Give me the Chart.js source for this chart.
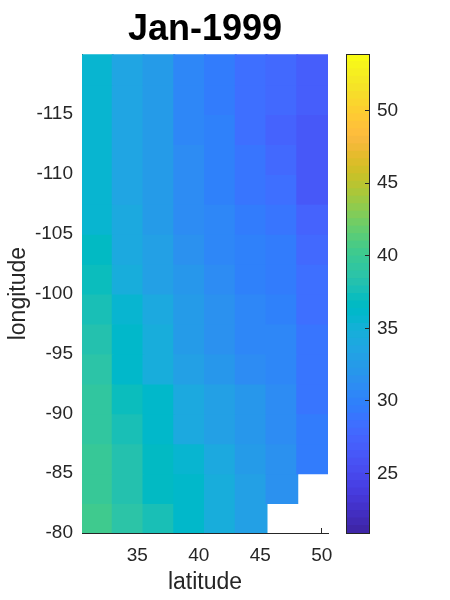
<!DOCTYPE html>
<html>
<head>
<meta charset="utf-8">
<script src="https://cdn.jsdelivr.net/npm/chart.js@4.4.1/dist/chart.umd.min.js"></script>
<style>
  body { margin: 0; background: #fff; }
  #wrap { position: relative; width: 450px; height: 600px; }
  #wrap canvas { position: absolute; left: 0; top: 0; }
</style>
</head>
<body>
<div id="wrap">
  <canvas id="mapChart" width="450" height="600"></canvas>
  <canvas id="barChart" width="450" height="600"></canvas>
</div>
<script>
// cell centres
const lats = [31.75, 34.25, 36.75, 39.25, 41.75, 44.25, 46.75, 49.25];
const lons = [-118.75, -116.25, -113.75, -111.25, -108.75, -106.25, -103.75, -101.25,
              -98.75, -96.25, -93.75, -91.25, -88.75, -86.25, -83.75, -81.25];

// one row per longitude, west -> east latitude columns (null = no data)
const r01 = [35.6, 33.5, 32.5, 30.4, 29.4, 28.4, 27.9, 26.8];
const r02 = [35.6, 33.5, 32.5, 30.4, 29.4, 28.4, 27.9, 26.8];
const r03 = [35.6, 33.5, 32.5, 30.4, 29.9, 28.4, 27.4, 26.3];
const r04 = [35.6, 33.5, 32.5, 31.0, 29.9, 28.9, 27.9, 26.3];
const r05 = [35.6, 33.5, 32.5, 31.0, 29.9, 28.9, 28.4, 26.3];
const r06 = [35.6, 34.1, 32.5, 31.0, 30.4, 29.4, 28.9, 27.4];
const r07 = [36.6, 34.1, 33.0, 31.5, 30.4, 29.9, 29.4, 27.9];
const r08 = [37.1, 34.6, 33.0, 32.0, 31.0, 29.9, 29.4, 28.4];
const r09 = [37.7, 35.6, 34.1, 32.5, 31.5, 30.4, 29.9, 28.4];
const r10 = [38.2, 36.1, 34.6, 32.5, 31.5, 30.4, 30.4, 28.9];
const r11 = [38.7, 36.1, 34.6, 33.0, 32.0, 31.0, 30.4, 28.9];
const r12 = [39.2, 37.1, 36.1, 34.1, 33.0, 32.0, 31.0, 28.9];
const r13 = [39.2, 37.7, 36.1, 34.1, 33.0, 32.0, 31.0, 29.4];
const r14 = [39.7, 38.2, 36.6, 35.6, 34.1, 32.5, 31.5, 29.4];
const r15 = [39.7, 38.2, 36.6, 36.1, 34.6, 33.0, 31.5, null];
const r16 = [40.2, 38.7, 37.7, 36.1, 34.6, 33.0, null, null];
const rows = [r01, r02, r03, r04, r05, r06, r07, r08, r09, r10, r11, r12, r13, r14, r15, r16];

const latTicks = [35, 40, 45, 50];
const lonTicks = [-115, -110, -105, -100, -95, -90, -85, -80];
const cLim = [20.9, 53.9];
const cTicks = [25, 30, 35, 40, 45, 50];

// parula(64)
const parulaMap = [
  [0.2422,0.1504,0.6603],[0.2504,0.1650,0.7076],[0.2578,0.1818,0.7511],[0.2647,0.1978,0.7952],
  [0.2706,0.2147,0.8364],[0.2751,0.2342,0.8710],[0.2783,0.2559,0.8991],[0.2803,0.2782,0.9221],
  [0.2813,0.3006,0.9414],[0.2810,0.3228,0.9579],[0.2795,0.3447,0.9717],[0.2760,0.3667,0.9829],
  [0.2699,0.3892,0.9906],[0.2602,0.4123,0.9952],[0.2440,0.4358,0.9988],[0.2206,0.4603,0.9973],
  [0.1963,0.4847,0.9892],[0.1834,0.5074,0.9798],[0.1786,0.5289,0.9682],[0.1764,0.5499,0.9520],
  [0.1687,0.5703,0.9359],[0.1540,0.5902,0.9218],[0.1460,0.6091,0.9079],[0.1380,0.6276,0.8973],
  [0.1248,0.6459,0.8883],[0.1113,0.6635,0.8763],[0.0952,0.6798,0.8598],[0.0689,0.6948,0.8394],
  [0.0297,0.7082,0.8163],[0.0036,0.7203,0.7917],[0.0067,0.7312,0.7660],[0.0433,0.7411,0.7394],
  [0.0964,0.7500,0.7120],[0.1408,0.7584,0.6842],[0.1717,0.7670,0.6554],[0.1938,0.7758,0.6251],
  [0.2161,0.7843,0.5923],[0.2470,0.7918,0.5567],[0.2906,0.7973,0.5188],[0.3406,0.8008,0.4789],
  [0.3909,0.8029,0.4354],[0.4456,0.8024,0.3909],[0.5044,0.7993,0.3480],[0.5616,0.7942,0.3045],
  [0.6174,0.7876,0.2612],[0.6720,0.7793,0.2227],[0.7242,0.7698,0.1910],[0.7738,0.7598,0.1646],
  [0.8203,0.7498,0.1535],[0.8634,0.7406,0.1596],[0.9035,0.7330,0.1774],[0.9393,0.7288,0.2100],
  [0.9728,0.7298,0.2394],[0.9956,0.7434,0.2371],[0.9970,0.7659,0.2199],[0.9952,0.7893,0.2028],
  [0.9892,0.8136,0.1885],[0.9786,0.8386,0.1766],[0.9676,0.8639,0.1643],[0.9610,0.8890,0.1537],
  [0.9597,0.9135,0.1423],[0.9628,0.9373,0.1265],[0.9691,0.9606,0.1064],[0.9769,0.9839,0.0805]
];

const axisColor = '#262626';
Chart.defaults.font.family = 'Arial, "Liberation Sans", Helvetica, sans-serif';
Chart.defaults.color = axisColor;

function rgb(c) {
  return 'rgb(' + c.map(x => Math.round(x * 255)).join(',') + ')';
}

function parula(v) {
  let k = Math.floor((v - cLim[0]) / (cLim[1] - cLim[0]) * parulaMap.length);
  k = Math.max(0, Math.min(parulaMap.length - 1, k));
  return rgb(parulaMap[k]);
}

const cellW = lats[1] - lats[0];
const cellH = lons[1] - lons[0];

// one floating-bar dataset per longitude row
const mapSets = rows.map((row, j) => {
  const cells = row
    .map((v, i) => ({ x: lats[i], y: [lons[j] - cellH / 2, lons[j] + cellH / 2], v: v }))
    .filter(d => d.v !== null);
  return {
    data: cells,
    backgroundColor: cells.map(d => parula(d.v))
  };
});

new Chart(document.getElementById('mapChart'), {
  type: 'bar',
  data: { datasets: mapSets },
  options: {
    responsive: false,
    animation: false,
    events: [],
    layout: { padding: { left: 0, right: 122, top: 0, bottom: 0 } },
    datasets: {
      bar: { grouped: false, barPercentage: 1, categoryPercentage: 1, borderWidth: 0, inflateAmount: 1 }
    },
    plugins: {
      legend: { display: false },
      tooltip: { enabled: false },
      title: {
        display: true,
        text: 'Jan-1999',
        fullSize: false,
        color: '#000',
        font: { size: 36, weight: 'bold' },
        padding: { top: 8, bottom: 3 }
      }
    },
    scales: {
      x: {
        type: 'linear',
        min: lats[0] - cellW / 2,
        max: lats[lats.length - 1] + cellW / 2,
        offset: false,
        afterBuildTicks: s => { s.ticks = latTicks.map(value => ({ value })); },
        afterFit: s => { s.height = 67; s.paddingLeft = 0; s.paddingRight = 0; },
        grid: { offset: false, drawOnChartArea: false, drawTicks: true, tickLength: -5, color: axisColor },
        border: { display: true, color: axisColor, width: 1 },
        ticks: { font: { size: 19 }, padding: 16, color: axisColor, maxRotation: 0, autoSkip: false, callback: v => String(v) },
        title: { display: true, text: 'latitude', color: axisColor, font: { size: 23 }, padding: { top: 0, bottom: 4 } }
      },
      y: {
        type: 'linear',
        min: lons[0] - cellH / 2,
        max: lons[lons.length - 1] + cellH / 2,
        reverse: true,
        afterBuildTicks: s => { s.ticks = lonTicks.map(value => ({ value })); },
        afterFit: s => { s.width = 82; s.paddingTop = 0; s.paddingBottom = 0; },
        grid: { drawOnChartArea: false, drawTicks: true, tickLength: -5, color: axisColor },
        border: { display: true, color: axisColor, width: 1 },
        ticks: { font: { size: 19 }, padding: 14, color: axisColor, autoSkip: false, callback: v => String(v) },
        title: { display: true, text: 'longitude', color: axisColor, font: { size: 23 }, padding: { top: 5, bottom: 0 } }
      }
    }
  }
});

// colorbar: one floating bar per colormap step
const dc = (cLim[1] - cLim[0]) / parulaMap.length;
const barSets = parulaMap.map((c, k) => ({
  data: [[cLim[0] + k * dc, cLim[0] + (k + 1) * dc]],
  backgroundColor: rgb(c)
}));

const frame = { display: true, color: axisColor, width: 1, z: 1 };

new Chart(document.getElementById('barChart'), {
  type: 'bar',
  data: { labels: ['cb'], datasets: barSets },
  options: {
    responsive: false,
    animation: false,
    events: [],
    layout: { padding: { left: 346, right: 0, top: 54, bottom: 67 } },
    datasets: {
      bar: { grouped: false, barPercentage: 1, categoryPercentage: 1, borderWidth: 0, inflateAmount: 0.5 }
    },
    plugins: { legend: { display: false }, tooltip: { enabled: false } },
    scales: {
      x: {
        position: 'bottom',
        grid: { display: false, drawTicks: false },
        ticks: { display: false },
        border: frame,
        afterFit: s => { s.height = 0; s.paddingLeft = 0; s.paddingRight = 0; }
      },
      xTop: {
        type: 'category',
        position: 'top',
        grid: { display: false, drawTicks: false },
        ticks: { display: false },
        border: frame,
        afterFit: s => { s.height = 0; s.paddingLeft = 0; s.paddingRight = 0; }
      },
      y: {
        type: 'linear',
        position: 'right',
        min: cLim[0],
        max: cLim[1],
        afterBuildTicks: s => { s.ticks = cTicks.map(value => ({ value })); },
        afterFit: s => { s.width = 81; s.paddingTop = 0; s.paddingBottom = 0; },
        grid: { drawOnChartArea: false, drawTicks: true, tickLength: -4, color: axisColor, z: 1 },
        border: frame,
        ticks: { font: { size: 19 }, padding: 12, color: axisColor, autoSkip: false, callback: v => String(v) }
      },
      yLeft: {
        type: 'linear',
        position: 'left',
        min: cLim[0],
        max: cLim[1],
        grid: { display: false, drawTicks: false },
        ticks: { display: false },
        border: frame,
        afterFit: s => { s.width = 0; s.paddingTop = 0; s.paddingBottom = 0; }
      }
    }
  }
});
</script>
</body>
</html>
